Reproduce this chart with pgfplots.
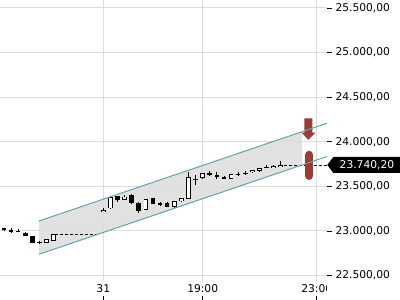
\documentclass[border=0pt]{standalone}
\usepackage{fontspec}
\setmainfont{DejaVu Sans}
\usepackage{pgfplots}
\pgfplotsset{compat=1.18}
\usepackage{pgfplotstable}
\definecolor{gridc}{RGB}{220,220,220}
\definecolor{chan}{RGB}{95,165,170}
\definecolor{chfill}{RGB}{222,222,222}
\definecolor{sig}{RGB}{158,58,52}

\pgfplotstableread{
x o h l c
-14 23030 23033 23005 23008
-13 23014 23030 22983 22985
-12 22996 23022 22990 22993
-11 22981 22994 22945 22947
-10 22944 22946 22860 22862
-9 22875 22893 22854 22873
-8 22871 22908 22868 22905
-7 22893 22968 22890 22966
0 23210 23261 23208 23235
1 23254 23386 23252 23378
2 23392 23395 23329 23348
3 23348 23404 23345 23385
4 23404 23410 23308 23311
5 23317 23322 23205 23219
6 23235 23362 23232 23359
7 23367 23370 23300 23303
8 23307 23325 23280 23304
9 23311 23329 23270 23272
10 23266 23340 23262 23336
11 23333 23370 23330 23367
12 23364 23665 23356 23602
13 23577 23628 23516 23581
14 23591 23655 23588 23650
15 23647 23673 23622 23625
16 23625 23658 23583 23602
17 23609 23620 23580 23583
18 23586 23642 23584 23639
19 23637 23658 23617 23640
20 23645 23667 23628 23648
21 23656 23683 23653 23681
22 23678 23705 23665 23703
23 23714 23737 23712 23716
24 23706 23735 23704 23732
25 23717 23781 23715 23740.2
}\candles

\begin{document}
\begin{tikzpicture}
\useasboundingbox (0,-19bp) rectangle (400bp,281bp);
\begin{axis}[
 at={(0,0)}, anchor=south west,
 scale only axis, width=327bp, height=281bp,
 xmin=-14.55, xmax=31.51, ymin=22439.4, ymax=25589.7,
 axis line style={draw=none},
 xtick={0,14,30.06}, xticklabels={31,19:00,23:00},
 x tick style={draw=none},
 ytick={22500,23000,...,25500},
 scaled y ticks=false,
 ytick pos=right, yticklabel pos=right,
 y tick style={black, line width=0.8bp},
 tick align=outside, major tick length=5bp,
 grid=major, grid style={gridc, line width=1bp},
 tick label style={font=\fontsize{10.7bp}{12bp}\selectfont, black},
 yticklabel style={/pgf/number format/fixed, /pgf/number format/fixed zerofill,
   /pgf/number format/precision=2, /pgf/number format/1000 sep={.},
   /pgf/number format/use comma, /pgf/number format/assume math mode=true,
   anchor=west, xshift=0bp},
 xticklabel style={/pgf/number format/assume math mode=true, yshift=4.5bp},
]
% channel
\addplot[fill=chfill, draw=none, fill opacity=0.9] coordinates {(-9.06,23112) (28,24113) (28,23740) (-9.06,22739)} -- cycle;
% dashed reference lines
\addplot[black, line width=0.8bp, dash pattern=on 3bp off 2bp] coordinates {(-6.8,22960) (-0.9,22960)};
\addplot[black, line width=0.8bp, dash pattern=on 3bp off 2bp] coordinates {(25.4,23740.2) (31.51,23740.2)};
% wicks
\addplot[mark=none, draw=none,
  error bars/.cd, y dir=both, y explicit, error mark=none,
  error bar style={draw=black, line width=0.8bp}]
  table[x=x, y expr={(\thisrow{h}+\thisrow{l})/2}, y error expr={(\thisrow{h}-\thisrow{l})/2}] {\candles};
% bodies (outer black)
\addplot[mark=none, draw=none,
  error bars/.cd, y dir=both, y explicit, error mark=none,
  error bar style={draw=black, line width=4.6bp}]
  table[x=x, y expr={(\thisrow{o}+\thisrow{c})/2}, y error expr={max(abs(\thisrow{c}-\thisrow{o})/2,6)}] {\candles};
% bodies (inner white for rising candles)
\addplot[mark=none, draw=none,
  error bars/.cd, y dir=both, y explicit, error mark=none,
  error bar style={draw=white, line width=3bp}]
  table[x=x, y expr={(\thisrow{o}+\thisrow{c})/2}, y error expr={max((\thisrow{c}-\thisrow{o})/2-9,0)}] {\candles};
% signal arrow and bar
\addplot[fill=sig, draw=none] coordinates {(28.337,24263) (29.463,24263) (29.463,24102) (29.886,24102) (28.9,24023) (27.914,24102) (28.337,24102)} -- cycle;
\addplot[sig, line width=8.3bp, line cap=round] coordinates {(29.0,23853) (29.0,23619)};
% channel borders
\addplot[chan, line width=1bp] coordinates {(-9.06,23112) (31.51,24208.2)};
\addplot[chan, line width=1bp] coordinates {(-9.06,22739) (31.51,23835.2)};
\coordinate (pl) at (axis cs:31.51,23740.2);
\coordinate (t1) at (axis cs:0,22439.4);
\coordinate (t2) at (axis cs:14,22439.4);
\coordinate (t3) at (axis cs:30.06,22439.4);
\end{axis}
\fill[white] (326.5bp,-19bp) rectangle (340bp,-0.6bp);
\foreach \t in {t1,t2,t3} \draw[black, line width=0.8bp] (\t) ++(0,-14.5bp) -- ++(0,-5bp);
\fill[black] (pl) ++(0.3bp,0) -- ++(6bp,8bp) -- ++(80bp,0) -- ++(0,-16bp) -- ++(-80bp,0) -- cycle;
\node[white, anchor=west, inner sep=0pt, font=\fontsize{10.7bp}{12bp}\selectfont] at ([xshift=12.5bp]pl) {23.740,20};
\end{tikzpicture}
\end{document}
